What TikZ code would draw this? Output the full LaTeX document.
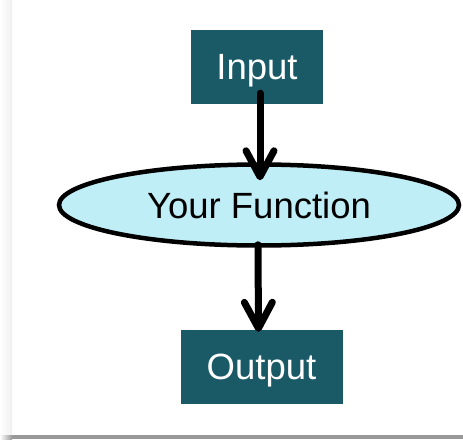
\documentclass[tikz,border=0pt]{standalone}
\usepackage{fontspec}
\setmainfont{Liberation Sans}
\usetikzlibrary{shapes.geometric,arrows.meta,calc}
\definecolor{boxteal}{RGB}{26,90,102}
\definecolor{fnfill}{RGB}{192,238,246}
\definecolor{barGrey}{RGB}{153,153,153}
\tikzset{
  iobox/.style={rectangle, fill=boxteal, text=white, inner sep=0pt,
                text depth=0pt, font=\fontsize{36.5}{40}\selectfont},
  fnshape/.style={ellipse, draw=black, line width=4.5pt, fill=fnfill,
                  inner sep=0pt, text depth=0pt,
                  font=\fontsize{36.5}{40}\selectfont},
  flow/.style={line width=7pt, line cap=round, line join=round,
               -{Straight Barb[length=26pt, width=28pt, round]}}
}
\begin{document}
\begin{tikzpicture}[x=1pt, y=-1pt]
  \useasboundingbox (0,0) rectangle (463,439);
  % page panel with its shadow
  \fill[white] (0,0) rectangle (463,439);
  \shade[left color=white, right color=black!6] (0,0) rectangle (12,435);
  \fill[barGrey] (12,435) rectangle (463,439);
  \shade[left color=white, right color=barGrey] (0,435) rectangle (12,439);

  % nodes
  \node[iobox, minimum width=132pt, minimum height=74pt] (in) at (257,67) {Input};
  \node[fnshape, minimum width=400pt, minimum height=81pt] (fn) at (259,205) {Your Function};
  \node[iobox, minimum width=162pt, minimum height=74pt] (out) at (261.5,367) {Output};

  % connectors
  \draw[flow] ($(in.south)+(3,-11)$) -- ($(fn.north)+(1,18)$);
  \draw[flow] ($(fn.south)+(-1,-3)$) -- ($(out.north)+(-3,2)$);
\end{tikzpicture}
\end{document}
